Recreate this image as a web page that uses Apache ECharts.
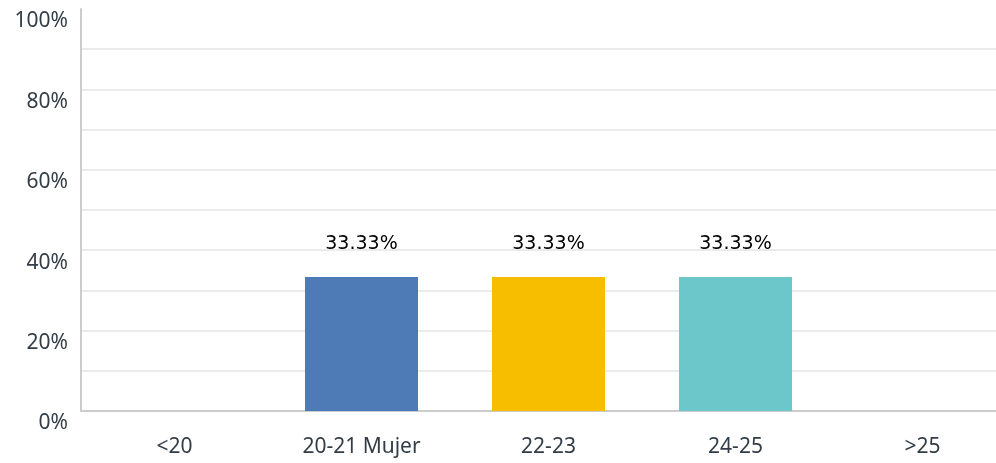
<!DOCTYPE html>
<html><head><meta charset="utf-8">
<style>html,body{margin:0;padding:0;background:#fff;overflow:hidden;width:996px;height:463px}#c{width:1016px;height:463px}</style>
<script src="https://cdn.jsdelivr.net/npm/echarts@6/dist/echarts.min.js"></script>
</head><body><div id="c"></div>
<script>
const categories = ['<20', '20-21 Mujer', '22-23', '24-25', '>25'];
const values = [null, 33.33, 33.33, 33.33, null];
const barColors = ['#4e7bb5', '#4e7bb5', '#f7be00', '#6cc7cb', '#6cc7cb'];
const yTicks = [0, 20, 40, 60, 80, 100];

const chart = echarts.init(document.getElementById('c'));
chart.setOption({
  animation: false,
  grid: { left: 81, right: 0, top: 9, bottom: 52, containLabel: false },
  xAxis: {
    type: 'category', data: categories,
    axisLine: { lineStyle: { color: '#cccccc', width: 2 } },
    axisTick: { show: false },
    axisLabel: { color: '#333d47', fontSize: 21, fontFamily: 'Noto Sans', margin: 26 }
  },
  yAxis: {
    type: 'value', min: 0, max: 100, interval: 10,
    axisLine: { show: true, lineStyle: { color: '#cccccc', width: 2 } },
    axisTick: { show: false },
    splitLine: { show: true, showMaxLine: false, lineStyle: { color: '#ebebeb', width: 2 } },
    axisLabel: {
      color: '#333d47', fontSize: 21, fontFamily: 'Noto Sans', margin: 13, verticalAlign: 'top',
      padding: [2, 0, 0, 0],
      formatter: v => yTicks.includes(v) ? v + '%' : ''
    }
  },
  series: [{
    type: 'bar', barWidth: 113,
    data: values.map((v, i) => ({ value: v, itemStyle: { color: barColors[i] } })),
    label: {
      show: true, position: 'top', distance: 23, color: '#000', fontSize: 19,
      fontFamily: 'DejaVu Sans', formatter: p => p.value.toFixed(2) + '%'
    }
  }]
});
</script></body></html>
